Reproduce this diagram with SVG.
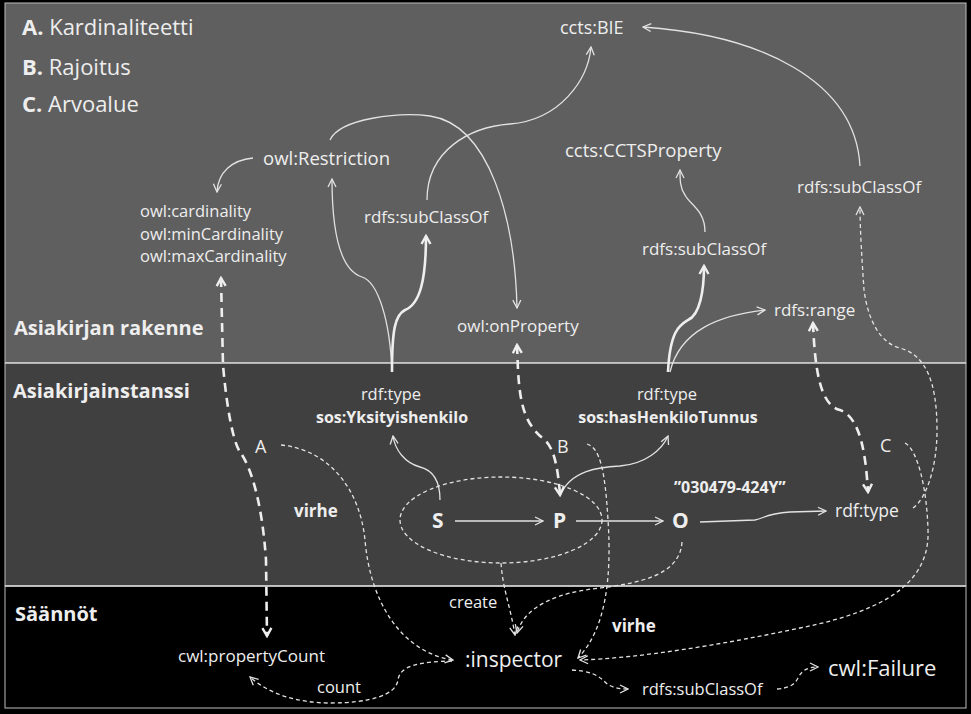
<svg xmlns="http://www.w3.org/2000/svg" width="971" height="714" viewBox="0 0 971 714">
<defs>
<style>
text{font-family:"Open Sans","Liberation Sans",sans-serif;fill:#eeeeee;}
.b{font-weight:bold;}
.c{fill:none;stroke:#e2e2e2;stroke-width:1.3;}
.k{fill:none;stroke:#eeeeee;stroke-width:2.6;}
.d{fill:none;stroke:#e2e2e2;stroke-width:1.3;stroke-dasharray:4 3;}
.dk{fill:none;stroke:#eeeeee;stroke-width:2.6;stroke-dasharray:9 6;}
.sep{stroke:#d8d8d8;stroke-width:1.5;}
</style>
<marker id="a" viewBox="0 0 10 10" refX="9" refY="5" markerWidth="10" markerHeight="10" markerUnits="userSpaceOnUse" orient="auto-start-reverse"><path d="M1,1 L9,5 L1,9" fill="none" stroke="#e2e2e2" stroke-width="1.3"/></marker>
<marker id="h" viewBox="0 0 12 12" refX="10" refY="6" markerWidth="12" markerHeight="12" markerUnits="userSpaceOnUse" orient="auto-start-reverse"><path d="M2,1.5 L10,6 L2,10.5" fill="none" stroke="#eeeeee" stroke-width="2.4"/></marker>
</defs>
<rect x="0" y="0" width="971" height="714" fill="#000"/>
<g id="panels">
<rect x="5" y="3" width="961" height="360" fill="#5f5f5f" stroke="#bdbdbd" stroke-width="1"/>
<rect x="5" y="363" width="961" height="223" fill="#404040"/>
<rect x="5" y="586" width="961" height="122" fill="#000" stroke="#bdbdbd" stroke-width="1"/>
<line class="sep" x1="5" y1="363" x2="966" y2="363"/>
<line class="sep" x1="5" y1="586" x2="966" y2="586"/>
<line x1="5" y1="363" x2="5" y2="586" stroke="#bdbdbd"/>
<line x1="966" y1="363" x2="966" y2="586" stroke="#bdbdbd"/>
</g>
<g id="legend">
<text x="22" y="35" font-size="22"><tspan class="b">A.</tspan> Kardinaliteetti</text>
<text x="22" y="75" font-size="22"><tspan class="b">B.</tspan> Rajoitus</text>
<text x="22" y="112" font-size="22"><tspan class="b">C.</tspan> Arvoalue</text>
</g>
<g id="section-labels">
<text class="b" x="14" y="335" font-size="20">Asiakirjan rakenne</text>
<text class="b" x="13" y="398" font-size="20">Asiakirjainstanssi</text>
<text class="b" x="15" y="621" font-size="20">Säännöt</text>
</g>
<g id="connectors">
<path class="c" d="M253,158 C232,160 218,172 217,192" marker-end="url(#a)"/>
<path class="c" d="M392,372 C390,320 378,282 362,277 C340,270 332,230 332,179" marker-end="url(#a)"/>
<path class="k" d="M392,372 C392,330 395,315 405,310 C420,304 426,280 426,236" marker-end="url(#h)"/>
<path class="c" d="M427,200 C427,150 470,127 510,124 C560,120 588,80 591,47" marker-end="url(#a)"/>
<path class="c" d="M330,140 C340,118 400,112 430,116 C490,125 515,220 517,308" marker-end="url(#a)"/>
<path class="k" d="M668,372 C670,330 680,325 688,320 C700,315 704,290 704,266" marker-end="url(#h)"/>
<path class="c" d="M670,372 C680,330 720,315 765,310" marker-end="url(#a)"/>
<path class="c" d="M705,232 C705,210 690,205 685,195 C680,188 680,180 680,170" marker-end="url(#a)"/>
<path class="c" d="M860,166 C855,80 760,35 643,27" marker-end="url(#a)"/>
<path class="d" d="M913,508 C925,500 937,470 937,430 C937,380 925,355 900,348 C880,343 868,320 864,290 C862,260 860,230 860,207" marker-end="url(#a)"/>
<path class="dk" d="M813,323 C815,370 820,405 840,410 C862,418 866,460 868,492" marker-start="url(#h)" marker-end="url(#h)"/>
<path class="c" d="M700,522 L755,520 C765,518 765,514 790,512 L826,511" marker-end="url(#a)"/>
<path class="c" d="M455,521 L543,521" marker-end="url(#a)"/>
<path class="c" d="M576,521 L663,521" marker-end="url(#a)"/>
<path class="c" d="M440,500 C440,480 432,470 420,467 C405,463 395,450 393,436" marker-end="url(#a)"/>
<path class="c" d="M560,496 C570,470 600,467 620,466 C645,464 662,450 668,436" marker-end="url(#a)"/>
<path class="dk" d="M517,345 L518,370 C520,405 525,425 545,440 C555,450 558,470 560,495" marker-start="url(#h)" marker-end="url(#h)"/>
<path class="dk" d="M221,278 L223,365 C226,400 232,440 240,452 C250,465 262,500 266,560 L267,636" marker-start="url(#h)" marker-end="url(#h)"/>
<path class="d" d="M281,445 C330,450 360,490 365,540 C370,600 400,652 453,660" marker-end="url(#a)"/>
<path class="d" d="M452,661 C420,662 400,665 398,680 C396,695 370,703 330,703 C300,703 270,695 250,677" marker-end="url(#a)"/>
<ellipse class="d" cx="501" cy="520" rx="101" ry="43"/>
<path class="d" d="M501,563 C503,590 510,605 515,635" marker-end="url(#a)"/>
<path class="d" d="M682,542 C680,575 640,583 600,588 C560,592 525,605 517,633" marker-end="url(#a)"/>
<path class="d" d="M587,444 C600,448 605,470 608,520 C612,580 605,630 578,658" marker-end="url(#a)"/>
<path class="d" d="M905,443 C918,450 927,490 928,530 C930,580 890,610 800,628 C720,645 640,658 580,660" marker-end="url(#a)"/>
<path class="d" d="M572,670 C590,671 598,675 605,682 C610,687 618,689 628,689" marker-end="url(#a)"/>
<path class="d" d="M777,689 C790,688 795,684 798,678 C802,670 808,667 818,667" marker-end="url(#a)"/>
</g>
<g id="ccts-BIE"><text x="560" y="34" font-size="18">ccts:BIE</text></g>
<g id="owl-Restriction"><text x="263" y="165" font-size="18.5">owl:Restriction</text></g>
<g id="owl-cardinality">
<text x="140" y="217" font-size="16.5">owl:cardinality</text>
<text x="140" y="240" font-size="16.5">owl:minCardinality</text>
<text x="140" y="262" font-size="16.5">owl:maxCardinality</text>
</g>
<g id="subClassOf-1"><text x="364" y="223" font-size="17">rdfs:subClassOf</text></g>
<g id="ccts-CCTSProperty"><text x="565" y="157" font-size="18.5">ccts:CCTSProperty</text></g>
<g id="subClassOf-2"><text x="797" y="193" font-size="17">rdfs:subClassOf</text></g>
<g id="subClassOf-3"><text x="642" y="255" font-size="17">rdfs:subClassOf</text></g>
<g id="rdfs-range"><text x="774" y="316" font-size="17">rdfs:range</text></g>
<g id="owl-onProperty"><text x="457" y="332" font-size="17">owl:onProperty</text></g>
<g id="type-Yksityishenkilo">
<text x="391" y="400" font-size="16.5" text-anchor="middle">rdf:type</text>
<text class="b" x="392" y="423" font-size="16" text-anchor="middle">sos:Yksityishenkilo</text>
</g>
<g id="type-hasHenkiloTunnus">
<text x="667" y="400" font-size="16.5" text-anchor="middle">rdf:type</text>
<text class="b" x="668" y="423" font-size="16" text-anchor="middle">sos:hasHenkiloTunnus</text>
</g>
<g id="label-A"><text x="255" y="453" font-size="18">A</text></g>
<g id="label-B"><text x="557" y="453" font-size="18">B</text></g>
<g id="label-C"><text x="880" y="452" font-size="18">C</text></g>
<g id="virhe-1"><text class="b" x="294" y="517" font-size="17">virhe</text></g>
<g id="S"><text class="b" x="432" y="528" font-size="21">S</text></g>
<g id="P"><text class="b" x="553" y="528" font-size="21">P</text></g>
<g id="O"><text class="b" x="672" y="528" font-size="21">O</text></g>
<g id="value"><text class="b" x="674" y="493" font-size="16">”030479-424Y”</text></g>
<g id="rdf-type-value"><text x="835" y="517" font-size="17.5">rdf:type</text></g>
<g id="create"><text x="449" y="608" font-size="16.5">create</text></g>
<g id="virhe-2"><text class="b" x="612" y="632" font-size="17">virhe</text></g>
<g id="inspector"><text x="465" y="667" font-size="21">:inspector</text></g>
<g id="propertyCount"><text x="178" y="662" font-size="17">cwl:propertyCount</text></g>
<g id="count"><text x="317" y="693" font-size="16.5">count</text></g>
<g id="subClassOf-4"><text x="642" y="695" font-size="16.5">rdfs:subClassOf</text></g>
<g id="cwl-Failure"><text x="828" y="676" font-size="22">cwl:Failure</text></g>
</svg>
